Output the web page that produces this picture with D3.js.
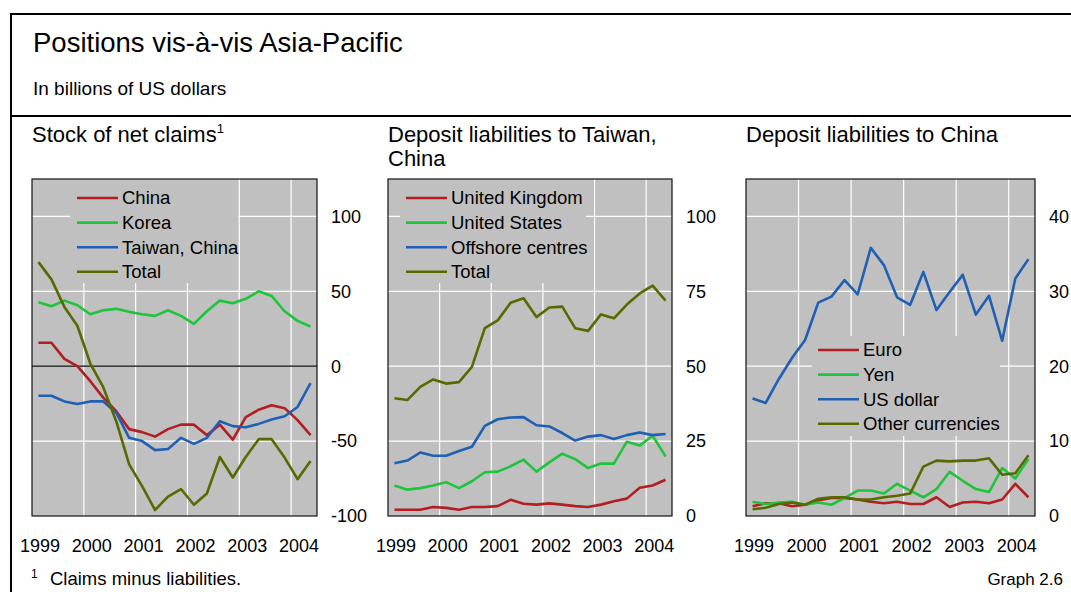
<!DOCTYPE html>
<html>
<head>
<meta charset="utf-8">
<script src="https://cdn.jsdelivr.net/npm/d3@7"></script>
<style>
  body { margin: 0; background: #fff; }
  svg { display: block; font-family: "Liberation Sans", Arial, sans-serif; }
</style>
</head>
<body>
<svg id="chart" width="1071" height="592"></svg>
<script>
// quarterly observations, 1999 Q1 to 2004 Q2
const quarters = ["1999Q1","1999Q2","1999Q3","1999Q4","2000Q1","2000Q2","2000Q3","2000Q4",
  "2001Q1","2001Q2","2001Q3","2001Q4","2002Q1","2002Q2","2002Q3","2002Q4",
  "2003Q1","2003Q2","2003Q3","2003Q4","2004Q1","2004Q2"];
const years = [1999, 2000, 2001, 2002, 2003, 2004];

// panel 1: stock of net claims
const netChina  = [15.7, 15.7, 4.9, 0, -10, -21, -30, -42, -44, -47, -42, -39, -39, -46, -39, -49, -34, -29, -26, -28, -36, -46];
const netKorea  = [42.7, 40, 43.8, 40.7, 34.7, 37.4, 38.3, 36.3, 34.7, 33.6, 37.4, 33.6, 28.3, 36.7, 43.8, 42, 45, 50, 46.9, 36.7, 30.3, 26.5];
const netTaiwan = [-19.7, -19.7, -23.5, -25.2, -23.5, -23.5, -31, -47.8, -50, -56, -55.3, -47.8, -51.8, -47.8, -36.7, -40, -40.7, -38.5, -35.6, -33.4, -27.2, -11.3];
const netTotal  = [69.5, 58, 39.6, 27, 1.8, -14, -36.7, -65.5, -80, -96, -87, -82, -92.5, -85, -60.6, -74.3, -60.6, -48.7, -48.7, -61, -75.4, -63.3];

// panel 2: deposit liabilities to Taiwan, China
const twUK       = [2.1, 2.1, 2.1, 3, 2.7, 2.1, 3, 3, 3.3, 5.4, 4.1, 3.8, 4.2, 3.8, 3.3, 3, 3.8, 4.9, 5.8, 9.4, 10.2, 12.1];
const twUS       = [10.2, 8.8, 9.3, 10.2, 11.3, 9.3, 11.6, 14.6, 14.8, 16.6, 18.8, 14.8, 17.9, 20.8, 19, 16, 17.5, 17.5, 24.8, 23.5, 26.8, 19.9];
const twOffshore = [17.6, 18.5, 21.2, 20.1, 20.1, 21.7, 23.1, 30.1, 32.3, 32.9, 33, 30.3, 29.9, 27.7, 25.2, 26.5, 27, 25.7, 27, 27.9, 27, 27.4];
const twTotal    = [39.3, 38.7, 43.1, 45.6, 44.2, 44.7, 49.8, 62.7, 65.3, 71.2, 72.7, 66.4, 69.6, 69.9, 62.7, 61.8, 67.3, 66, 70.6, 74.3, 76.9, 71.9];

// panel 3: deposit liabilities to China, by currency
const cnEuro  = [1.3, 1.7, 1.7, 1.3, 1.5, 2.1, 2.4, 2.4, 2.2, 1.9, 1.7, 1.9, 1.6, 1.6, 2.5, 1.2, 1.8, 1.9, 1.7, 2.2, 4.3, 2.5];
const cnYen   = [1.9, 1.6, 1.8, 1.9, 1.5, 1.8, 1.5, 2.4, 3.4, 3.4, 3, 4.3, 3.4, 2.5, 3.6, 5.9, 4.7, 3.6, 3.2, 6.4, 5, 7.6];
const cnUSD   = [15.7, 15.1, 18.3, 21.1, 23.5, 28.5, 29.3, 31.5, 29.6, 35.8, 33.5, 29.2, 28.2, 32.6, 27.5, 29.9, 32.2, 26.9, 29.4, 23.4, 31.7, 34.3];
const cnOther = [0.9, 1.1, 1.6, 1.8, 1.5, 2.3, 2.5, 2.5, 2.2, 2.2, 2.5, 2.7, 3.0, 6.6, 7.4, 7.3, 7.4, 7.4, 7.7, 5.5, 5.7, 8.1];

const RED = "#b21e22", GREEN = "#1ec43c", BLUE = "#1f5fb4", OLIVE = "#556b00";

// quarter string -> mid-quarter decimal year
function qx(s) { return +s.slice(0, 4) + (+s.slice(5) - 0.5) / 4; }

const panels = [
  { title: ["Stock of net claims"], sup: "1", left: 32, right: 317, domain: [-100, 125], ticks: [-100, -50, 0, 50, 100],
    zeroLine: true, legend: { x: 77, y: 198, box: [70, 179, 168, 104] },
    series: [["China", netChina, RED], ["Korea", netKorea, GREEN], ["Taiwan, China", netTaiwan, BLUE], ["Total", netTotal, OLIVE]] },
  { title: ["Deposit liabilities to Taiwan,", "China"], left: 388, right: 672, domain: [0, 112.5], ticks: [0, 25, 50, 75, 100],
    legend: { x: 406, y: 198, box: [400, 179, 186, 104] },
    series: [["United Kingdom", twUK, RED], ["United States", twUS, GREEN], ["Offshore centres", twOffshore, BLUE], ["Total", twTotal, OLIVE]] },
  { title: ["Deposit liabilities to China"], left: 746, right: 1035, domain: [0, 45], ticks: [0, 10, 20, 30, 40],
    legend: { x: 818, y: 350, box: [812, 336, 188, 100] },
    series: [["Euro", cnEuro, RED], ["Yen", cnYen, GREEN], ["US dollar", cnUSD, BLUE], ["Other currencies", cnOther, OLIVE]] }
];

const svg = d3.select("#chart");
const plotTop = 179, plotBottom = 516;

// frame
svg.append("path").attr("d", "M11,592 V14 H1071").attr("fill", "none").attr("stroke", "#000").attr("stroke-width", 2);
svg.append("line").attr("x1", 11).attr("x2", 1071).attr("y1", 116).attr("y2", 116).attr("stroke", "#000").attr("stroke-width", 2);

svg.append("text").attr("x", 33).attr("y", 52).attr("font-size", 27.5).text("Positions vis-à-vis Asia-Pacific");
svg.append("text").attr("x", 33).attr("y", 95).attr("font-size", 19).text("In billions of US dollars");

panels.forEach(p => {
  const x = d3.scaleLinear().domain([1999, 2004.5]).range([p.left, p.right]);
  const y = d3.scaleLinear().domain(p.domain).range([plotBottom, plotTop]);
  const g = svg.append("g");

  // panel title
  p.title.forEach((t, i) => {
    const tx = g.append("text").attr("x", p.left).attr("y", 142 + i * 24).attr("font-size", 22).text(t);
    if (p.sup && i === 0) tx.append("tspan").attr("font-size", 13).attr("dy", -9).text(p.sup);
  });

  g.append("rect").attr("x", p.left).attr("y", plotTop).attr("width", p.right - p.left).attr("height", plotBottom - plotTop)
    .attr("fill", "#c0c0c0");

  // gridlines
  g.append("g").selectAll("line").data(years.slice(1)).join("line")
    .attr("x1", d => x(d)).attr("x2", d => x(d)).attr("y1", plotTop).attr("y2", plotBottom)
    .attr("stroke", "#fff").attr("stroke-width", 1.2);
  g.append("g").selectAll("line").data(p.ticks.filter(t => t > p.domain[0])).join("line")
    .attr("x1", p.left).attr("x2", p.right).attr("y1", d => y(d)).attr("y2", d => y(d))
    .attr("stroke", "#fff").attr("stroke-width", 1.2);

  // legend background hides the gridlines behind it
  const b = p.legend.box;
  g.append("rect").attr("x", b[0]).attr("y", b[1]).attr("width", b[2]).attr("height", b[3]).attr("fill", "#c0c0c0");

  if (p.zeroLine) {
    g.append("line").attr("x1", p.left).attr("x2", p.right).attr("y1", y(0)).attr("y2", y(0))
      .attr("stroke", "#000").attr("stroke-width", 1.2);
  }

  const line = d3.line().x((d, i) => x(qx(quarters[i]))).y(d => y(d));
  p.series.forEach(s => {
    g.append("path").datum(s[1]).attr("d", line).attr("fill", "none")
      .attr("stroke", s[2]).attr("stroke-width", 2.6).attr("stroke-linejoin", "round");
  });

  // legend
  const lg = g.append("g").attr("transform", `translate(${p.legend.x},${p.legend.y})`);
  p.series.forEach((s, i) => {
    lg.append("line").attr("x1", 0).attr("x2", 41).attr("y1", i * 24.6).attr("y2", i * 24.6)
      .attr("stroke", s[2]).attr("stroke-width", 2.6);
    lg.append("text").attr("x", 45).attr("y", i * 24.6).attr("dy", "0.35em").attr("font-size", 18.5).text(s[0]);
  });

  g.append("rect").attr("x", p.left).attr("y", plotTop).attr("width", p.right - p.left).attr("height", plotBottom - plotTop)
    .attr("fill", "none").attr("stroke", "#111").attr("stroke-width", 1.2);

  // right-hand y axis labels
  g.append("g").selectAll("text").data(p.ticks).join("text")
    .attr("x", p.right + 14).attr("y", d => y(d)).attr("dy", "0.35em").attr("font-size", 18).text(d => d);

  // year labels
  g.append("g").selectAll("text").data(years).join("text")
    .attr("x", d => x(d) + 8).attr("y", 552).attr("text-anchor", "middle").attr("font-size", 18).text(d => d);
});

// footnote
svg.append("text").attr("x", 31).attr("y", 578).attr("font-size", 12).text("1");
svg.append("text").attr("x", 50).attr("y", 585).attr("font-size", 18.5).text("Claims minus liabilities.");
svg.append("text").attr("x", 1063).attr("y", 585).attr("text-anchor", "end").attr("font-size", 17).text("Graph 2.6");
</script>
</body>
</html>
